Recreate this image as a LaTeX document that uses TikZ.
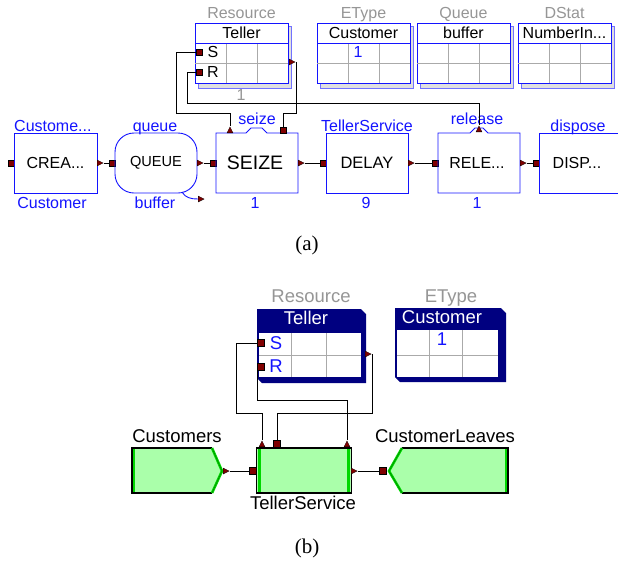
\documentclass[tikz,border=0pt]{standalone}
\usepackage{fontspec}
\setmainfont{Liberation Sans}
\newfontfamily\capfont{Liberation Serif}
\usetikzlibrary{shapes.geometric}
\definecolor{ablue}{RGB}{20,20,255}
\definecolor{portred}{RGB}{128,0,0}
\definecolor{lgray}{RGB}{150,150,150}
\definecolor{gridgray}{RGB}{170,170,170}
\definecolor{navy}{RGB}{0,0,128}
\definecolor{lgreen}{RGB}{170,255,170}
\definecolor{sgreen}{RGB}{0,215,0}
\newcommand\fsz[1]{\fontsize{#1}{#1}\selectfont}
\newcommand\dboxa[5]{% name, x0, type label, header, extra
  \filldraw[fill=black!12,draw=ablue!60,line width=.6pt] (#2+3,26) rectangle (#2+96,88);
  \node[draw=ablue,fill=white,line width=.8pt,minimum width=93pt,minimum height=60pt,inner sep=0pt,anchor=north west] (#1) at (#2,23) {};
  \draw[gridgray,line width=.7pt] (#2,63) -- (#2+93,63) (#2+31,43) -- (#2+31,83) (#2+62,43) -- (#2+62,83);
  \draw[ablue,line width=.8pt] (#2,43) -- (#2+93,43);
  \node[text=black,font=\fsz{16},inner sep=0pt,anchor=base] at (#2+46.5,38) {#4};
  \node[glbl] at (#2+46.5,18) {#3};
}
\begin{document}
\begin{tikzpicture}[x=1pt,y=-1pt,
  psq/.style={draw=black,fill=portred,minimum size=6pt,inner sep=0pt,line width=0.4pt},
  ptri/.style={fill=portred,draw=black,line width=0.3pt,isosceles triangle,isosceles triangle stretches,minimum width=6pt,minimum height=6pt,inner sep=0pt},
  ptriup/.style={ptri,shape border rotate=90},
  wire/.style={black,line width=1pt},
  blk/.style={draw=ablue,line width=0.9pt,inner sep=0pt},
  lbl/.style={text=ablue,font=\fsz{16},inner sep=0pt,anchor=base},
  glbl/.style={text=lgray,font=\fsz{16},inner sep=0pt,anchor=base},
  blbl/.style={text=black,font=\fsz{18.5},inner sep=0pt,anchor=base},
  gblbl/.style={text=lgray,font=\fsz{18.5},inner sep=0pt,anchor=base},
]
\useasboundingbox (0,0) rectangle (618,563);
\fill[white] (0,0) rectangle (618,563);

% ---------------- (a) data boxes
\dboxa{tla}{195}{Resource}{Teller}{}
\dboxa{eta}{317}{EType}{Customer}{}
\dboxa{qua}{417}{Queue}{buffer}{}
\dboxa{dsa}{518}{DStat}{NumberIn...}{}
\node[text=black,font=\fsz{16},inner sep=0pt,anchor=base] at (213,57) {S};
\node[text=black,font=\fsz{16},inner sep=0pt,anchor=base] at (213,77) {R};
\node[psq] (taS) at (199,52) {};
\node[psq] (taR) at (199,72) {};
\node[ptri,anchor=west] (taO) at (289,62) {};
\node[glbl] at (241,100) {1};
\node[lbl] at (358,57) {1};

% ---------------- (a) flow blocks
\node[psq] (crI) at (11,163) {};
\node[blk,minimum width=83pt,minimum height=60pt,font=\fsz{16}] (cr) at (55.5,163) {CREA...};
\node[ptri,anchor=west] (crO) at (97,163) {};
\node[lbl,anchor=base west] at (14,131) {Custome...};
\node[lbl] at (52,208) {Customer};

\node[psq] (quI) at (112,163) {};
\node[blk,rounded corners=19pt,minimum width=82pt,minimum height=60pt,font=\fsz{14.6}] (qu) at (156,163) {QUEUE};
\node[ptri,anchor=west] (quO) at (197,163) {};
\node[ptri,anchor=west] (quB) at (198,199) {};
\draw[ablue,line width=.9pt] (182,192) to[out=-60,in=180] (quB.west);
\node[lbl] at (155,131) {queue};
\node[lbl] at (155,208) {buffer};

\node[psq] (seI) at (213,163) {};
\draw[blk] (216,133) -- (246,133) -- (251,128) -- (262,128) -- (267,133) -- (298,133) -- (298,193) -- (216,193) -- cycle;
\node[font=\fsz{19.5},inner sep=0pt] (se) at (255,163) {SEIZE};
\node[ptri,anchor=west] (seO) at (298,163) {};
\node[ptriup,anchor=south] (seT1) at (230,133) {};
\node[psq] (seT2) at (283,130) {};
\node[lbl] at (257,124) {seize};
\node[lbl] at (255,208) {1};

\node[psq] (deI) at (323,163) {};
\node[blk,minimum width=82pt,minimum height=60pt,font=\fsz{16.5}] (de) at (367,163) {DELAY};
\node[ptri,anchor=west] (deO) at (408,163) {};
\node[lbl] at (367,131) {TellerService};
\node[lbl] at (366,208) {9};

\node[psq] (reI) at (435,163) {};
\draw[blk] (438,133) -- (470,133) -- (475,128) -- (483,128) -- (488,133) -- (520,133) -- (520,193) -- (438,193) -- cycle;
\node[font=\fsz{16},inner sep=0pt] (re) at (477,163) {RELE...};
\node[ptri,anchor=west] (reO) at (520,163) {};
\node[ptriup,anchor=south] (reT) at (479,132) {};
\node[lbl] at (477,124) {release};
\node[lbl] at (477,208) {1};

\node[psq] (diI) at (536,163) {};
\draw[blk] (622,133) -- (539,133) -- (539,193) -- (622,193);
\node[font=\fsz{16},inner sep=0pt] (di) at (577,163) {DISP...};
\node[lbl] at (578,131) {dispose};

\draw[wire] (crO.east) -- (quI.west);
\draw[wire] (quO.east) -- (seI.west);
\draw[wire] (seO.east) -- (deI.west);
\draw[wire] (deO.east) -- (reI.west);
\draw[wire] (reO.east) -- (diI.west);
\draw[wire] (taS.west) -- (176,52) -- (176,113) -| (seT1.north);
\draw[wire] (taR.west) -- (187,72) -- (187,103) -| (reT.north);
\draw[wire] (taO.east) -- (296,62) -- (296,113) -| (seT2.north);

\node[font=\capfont\fsz{21},inner sep=0pt] at (307,245) {(a)};

% ---------------- (b) data boxes
\fill[navy] (257,309) -- (361,309) -- (366,314) -- (366,383) -- (262,383) -- (257,378) -- cycle;
\node[fill=white,minimum width=102pt,minimum height=44pt,inner sep=0pt,anchor=north west] (tlb) at (259,333) {};
\draw[gridgray,line width=.8pt] (259,355) -- (361,355) (291,333) -- (291,377) (326,333) -- (326,377);
\node[text=white,font=\fsz{18.5},inner sep=0pt,anchor=base] at (306,324) {Teller};
\node[gblbl] at (311,302) {Resource};
\node[text=ablue,font=\fsz{18.5},inner sep=0pt,anchor=base] at (276,349) {S};
\node[text=ablue,font=\fsz{18.5},inner sep=0pt,anchor=base] at (276,372) {R};
\node[psq,minimum size=7pt] (tbS) at (261,343) {};
\node[psq,minimum size=7pt] (tbR) at (261,367) {};
\node[ptri,anchor=west] (tbO) at (365,354) {};

\fill[navy] (395,308) -- (501,308) -- (506,313) -- (506,382) -- (400,382) -- (395,377) -- cycle;
\node[fill=white,minimum width=101pt,minimum height=47pt,inner sep=0pt,anchor=north west] (etb) at (397,330) {};
\draw[gridgray,line width=.8pt] (397,355) -- (498,355) (429,330) -- (429,377) (462,330) -- (462,377);
\node[text=white,font=\fsz{18.5},inner sep=0pt,anchor=base] at (442,323) {Customer};
\node[gblbl] at (451,302) {EType};
\node[text=ablue,font=\fsz{18.5},inner sep=0pt,anchor=base] at (442,345) {1};

% ---------------- (b) flow blocks
% Customers
\fill[lgreen] (132,448) -- (212,448) -- (223,471) -- (212,493) -- (132,493) -- cycle;
\fill[sgreen] (132,448) rectangle (135,493);
\draw[black,line width=1.8pt] (212,448) -- (132,448) -- (132,493) -- (212,493);
\draw[sgreen,line width=2.6pt] (212,448) -- (222,471) -- (212,493);
\draw[green!50!black,line width=.5pt] (212,448) -- (222,471) -- (212,493);
\node[inner sep=0pt] (cu) at (175,470) {};
\node[ptri,anchor=west] (cuO) at (223,471) {};
\node[blbl] at (177,442) {Customers};

% TellerService
\node[fill=lgreen,minimum width=94pt,minimum height=45pt,inner sep=0pt] (ts) at (304,470.5) {};
\fill[sgreen] (258,448) rectangle (261,493);
\fill[sgreen] (347,448) rectangle (350,493);
\draw[black,line width=.9pt] (ts.north west) rectangle (ts.south east);
\draw[black,line width=2pt] (ts.north west) -- (ts.north east) (ts.south west) -- (ts.south east);
\node[psq,minimum size=7pt] (tsI) at (253,471) {};
\node[ptri,anchor=west] (tsO) at (351,471) {};
\node[ptriup,anchor=south] (tsT1) at (262,447) {};
\node[psq,minimum size=7pt] (tsT2) at (277,444) {};
\node[ptriup,anchor=south] (tsT3) at (347,447) {};
\node[blbl] at (303,509) {TellerService};

% CustomerLeaves
\fill[lgreen] (508,448) -- (402,448) -- (388,471) -- (402,493) -- (508,493) -- cycle;
\fill[sgreen] (505,448) rectangle (508,493);
\draw[black,line width=1.8pt] (402,448) -- (508,448) -- (508,493) -- (402,493);
\draw[sgreen,line width=2.6pt] (402,448) -- (389,471) -- (402,493);
\draw[green!50!black,line width=.5pt] (402,448) -- (389,471) -- (402,493);
\node[psq,minimum size=7pt] (clI) at (383,471) {};
\node[blbl] at (445,442) {CustomerLeaves};

\draw[wire] (cuO.east) -- (tsI.west);
\draw[wire] (tsO.east) -- (clI.west);
\draw[wire] (tbS.west) -- (236,343) -- (236,413) -| (tsT1.north);
\draw[wire] (tbR.west) -- (257,367) -- (257,400) -| (tsT3.north);
\draw[wire] (tbO.east) -- (372,354) -- (372,413) -| (tsT2.north);

\node[font=\capfont\fsz{21},inner sep=0pt] at (307,548) {(b)};
\end{tikzpicture}
\end{document}
